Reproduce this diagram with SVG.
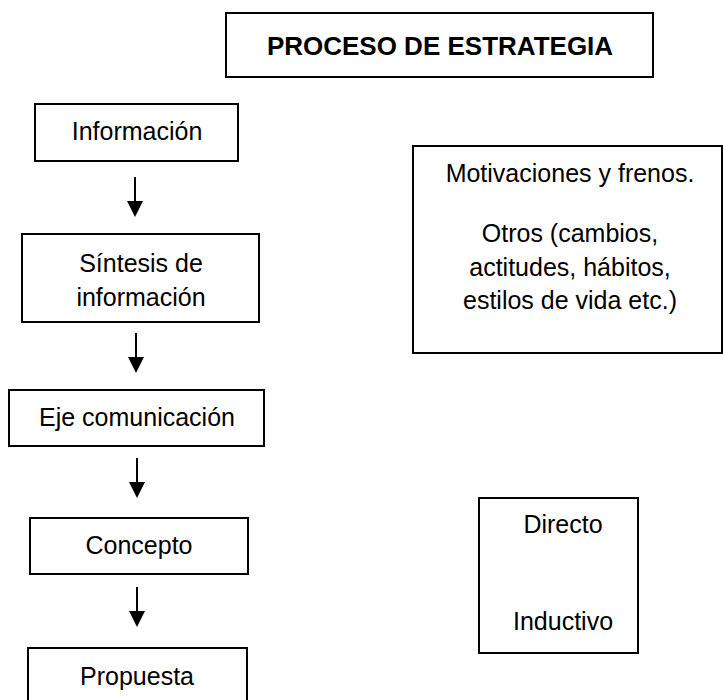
<svg xmlns="http://www.w3.org/2000/svg" width="724" height="700" viewBox="0 0 724 700">
<defs>
<style>
.box{fill:#fff;stroke:#000;stroke-width:2}
.t{font-family:"Liberation Sans",Arial,sans-serif;font-size:25px;fill:#000;text-anchor:middle}
.title{font-weight:bold;font-size:26px}
.conn{stroke:#000;stroke-width:2;fill:none}
.head{fill:#000}
</style>
</defs>
<rect width="724" height="700" fill="#fff"/>
<g id="title">
<rect class="box" x="226" y="13" width="427" height="64"/>
<text class="t title" x="440" y="55">PROCESO DE ESTRATEGIA</text>
</g>
<g id="informacion">
<rect class="box" x="35" y="104" width="203" height="57"/>
<text class="t" x="137" y="140">Información</text>
</g>
<g id="sintesis">
<rect class="box" x="22" y="234" width="237" height="88"/>
<text class="t" x="141" y="272">Síntesis de</text>
<text class="t" x="141" y="306">información</text>
</g>
<g id="eje">
<rect class="box" x="9" y="390" width="255" height="56"/>
<text class="t" x="137" y="426">Eje comunicación</text>
</g>
<g id="concepto">
<rect class="box" x="30" y="518" width="218" height="56"/>
<text class="t" x="139" y="554">Concepto</text>
</g>
<g id="propuesta">
<rect class="box" x="28" y="648" width="219" height="62"/>
<text class="t" x="137" y="685">Propuesta</text>
</g>
<g id="motivaciones">
<rect class="box" x="413" y="146" width="309" height="207"/>
<text class="t" x="570" y="182">Motivaciones y frenos.</text>
<text class="t" x="570" y="242">Otros (cambios,</text>
<text class="t" x="570" y="276">actitudes, hábitos,</text>
<text class="t" x="570" y="309">estilos de vida etc.)</text>
</g>
<g id="directo">
<rect class="box" x="479" y="498" width="159" height="155"/>
<text class="t" x="563" y="533">Directo</text>
<text class="t" x="563" y="630">Inductivo</text>
</g>
<g id="connectors">
<path d="M135,177 V201" class="conn"/><path class="head" d="M127,201 L135,217 L143,201 Z"/>
<path d="M136,333 V357" class="conn"/><path class="head" d="M128,357 L136,373 L144,357 Z"/>
<path d="M137,458 V482" class="conn"/><path class="head" d="M129,482 L137,498 L145,482 Z"/>
<path d="M137,587 V611" class="conn"/><path class="head" d="M129,611 L137,627 L145,611 Z"/>
</g>
</svg>
